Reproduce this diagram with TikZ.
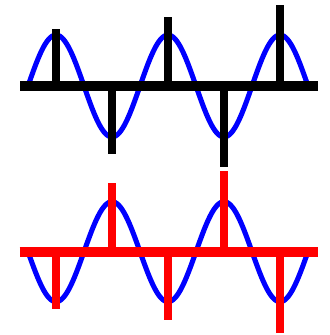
\documentclass[tikz,border=0pt]{standalone}
\begin{document}
\begin{tikzpicture}[x=0.75pt,y=-0.75pt,
  wave/.style={blue,line width=3.8pt},
  axisbar/.style={line width=7.5pt},
  stem/.style={line width=6pt}]
\useasboundingbox (0,0) rectangle (329,335);
% top panel
\draw[wave] plot[domain=28:308,samples=200,smooth] (\x,{86-51*sin((\x-28)/112*360)});
\coordinate (tl) at (20,86); \coordinate (tr) at (318,86);
\draw[axisbar,black] (tl) -- (tr);
\foreach \xx/\yy in {56/29,112/154,168/17,224/166.5,280/5}{
  \coordinate (ta\xx) at (\xx,86);
  \coordinate (tb\xx) at (\xx,\yy);
  \draw[stem,black] (ta\xx) -- (tb\xx);
}
% bottom panel
\draw[wave] plot[domain=28:308,samples=200,smooth] (\x,{251.7+50*sin((\x-28)/112*360)});
\coordinate (bl) at (19.5,251.7); \coordinate (br) at (318,251.7);
\draw[axisbar,red] (bl) -- (br);
\foreach \xx/\yy in {56/309,112/183,168/320,224/171,280/333}{
  \coordinate (ba\xx) at (\xx,251.7);
  \coordinate (bb\xx) at (\xx,\yy);
  \draw[stem,red] (ba\xx) -- (bb\xx);
}
\end{tikzpicture}
\end{document}
